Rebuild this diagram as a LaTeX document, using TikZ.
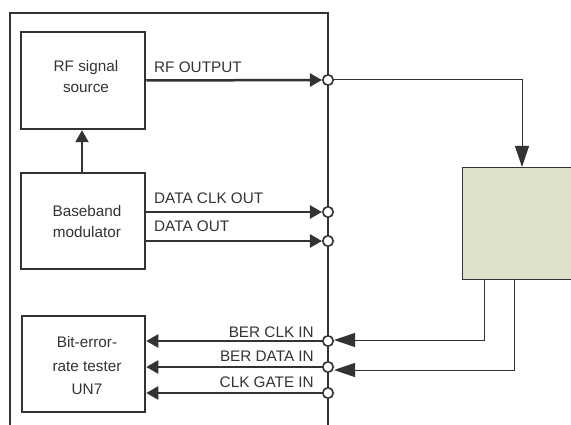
\documentclass[tikz,border=0pt]{standalone}
\usepackage{fontspec}
\setmainfont{Liberation Sans}
\usetikzlibrary{arrows.meta}
\definecolor{ink}{HTML}{333333}
\definecolor{dev}{HTML}{DCE1CA}
\begin{document}
\begin{tikzpicture}[x=1pt,y=-1pt,
  blockbox/.style={draw=ink,line width=2.5pt,inner sep=0pt,align=center,text=ink,
     font=\fontsize{15}{22}\selectfont},
  port/.style={circle,draw=ink,line width=1.6pt,fill=white,minimum size=10.5pt,inner sep=0pt},
  sig/.style={draw=ink,line width=2.5pt,-{Triangle[length=12pt,width=13pt]}},
  ext/.style={draw=ink,line width=1pt,-{Triangle[length=21pt,width=14pt]}},
  lbl/.style={text=ink,inner sep=0pt,font=\fontsize{15.3}{18}\selectfont}]
\useasboundingbox (0,0) rectangle (571,425);
% frame
\draw[ink,line width=2.5pt] (10,430) -- (10,13) -- (328,13) -- (328,430);
% blocks
\node[blockbox,minimum width=124pt,minimum height=97pt] (rf) at (83,80.5) {};
\node[lbl,align=center,font=\fontsize{15.3}{21}\selectfont] (rft) at (86,77) {RF signal\\source};
\node[blockbox,minimum width=124pt,minimum height=96pt] (bb) at (83,221) {};
\node[lbl,align=center,font=\fontsize{15.3}{21}\selectfont] (bbt) at (87,222) {Baseband\\modulator};
\node[blockbox,minimum width=123pt,minimum height=96pt] (ber) at (83.5,364) {};
\node[lbl,align=center,font=\fontsize{15.3}{23.5}\selectfont] (bert) at (87,366) {Bit-error-\\rate tester\\UN7};
% device under test
\node[draw=ink,line width=1pt,fill=dev,minimum width=120pt,minimum height=112pt,inner sep=0pt,anchor=north west] (dut) at (462,167) {};
% ports
\node[port] (p1) at (328,80) {};
\node[port] (p2) at (328,212) {};
\node[port] (p3) at (328,241) {};
\node[port] (p4) at (328,341) {};
\node[port] (p5) at (328,367) {};
\node[port] (p6) at (328,393) {};
% internal signals
\draw[sig] (bb.north -| 82,0) -- (rf.south -| 82,0);
\draw[sig] (rf.east) -- (p1.west);
\draw[sig] (bb.east |- p2) -- (p2.west);
\draw[sig] (bb.east |- p3) -- (p3.west);
\draw[sig] (p4.west) -- (ber.east |- p4);
\draw[sig] (p5.west) -- (ber.east |- p5);
\draw[sig] (p6.west) -- (ber.east |- p6);
% labels
\node[lbl,anchor=base west] (l1) at (154,73) {RF OUTPUT};
\node[lbl,anchor=base west] (l2) at (154,204) {DATA CLK OUT};
\node[lbl,anchor=base west] (l3) at (154,232) {DATA OUT};
\node[lbl,anchor=base east] (l4) at (314,337) {BER CLK IN};
\node[lbl,anchor=base east] (l5) at (314,361) {BER DATA IN};
\node[lbl,anchor=base east] (l6) at (314,387) {CLK GATE IN};
% external wiring
\coordinate (k1) at (522,80);
\coordinate (k2) at (484,340);
\coordinate (k3) at (514,370);
\draw[ext] (p1.east) -- (k1) -- (dut.north -| k1);
\draw[ext] (dut.south -| k2) -- (k2) -- (p4.east |- k2);
\draw[ext] (dut.south -| k3) -- (k3) -- (p5.east |- k3);
\end{tikzpicture}
\end{document}
